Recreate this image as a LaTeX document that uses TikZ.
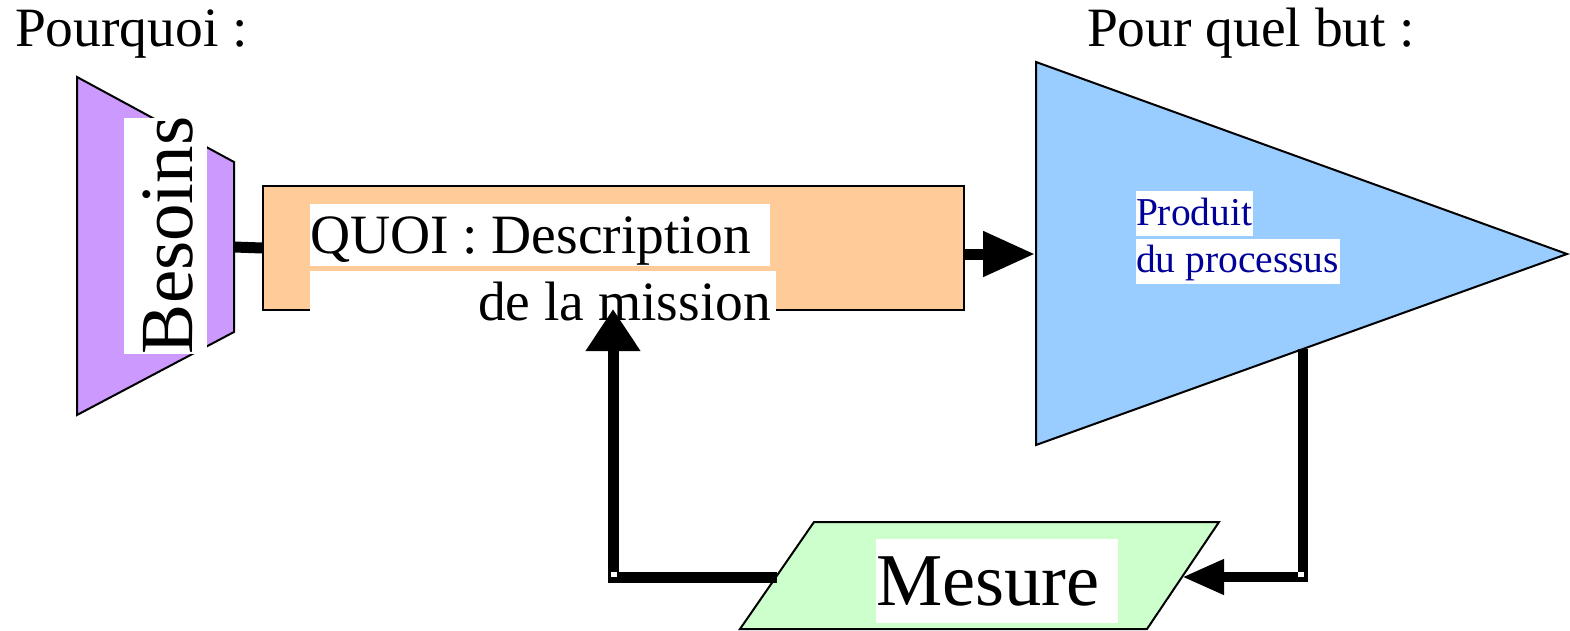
\documentclass[tikz,border=0pt]{standalone}
\usepackage{fontspec}
\setmainfont{Liberation Serif}
\usetikzlibrary{arrows.meta}
\definecolor{besoinfill}{HTML}{CC99FF}
\definecolor{quoifill}{HTML}{FFCC99}
\definecolor{prodfill}{HTML}{99CCFF}
\definecolor{mesfill}{HTML}{CCFFCC}
\definecolor{prodtext}{HTML}{000099}
\begin{document}
\begin{tikzpicture}[x=1pt,y=-1pt,
  shapeline/.style={draw=black,line width=2pt,line join=miter},
  link/.style={draw=black,line width=11pt,line join=miter},
  lbl/.style={inner sep=0pt,outer sep=0pt,anchor=base west},
  bigtxt/.style={font=\fontsize{55.5}{60}\selectfont},
  bg/.style={fill=white}]
\useasboundingbox (0,0) rectangle (1570,631);
% titles
\node[lbl,bigtxt] (pourquoi) at (15,47) {Pourquoi :};
\node[lbl,bigtxt] (pourbut) at (1087,47) {Pour quel but :};
% shapes
\draw[shapeline,fill=besoinfill] (77,77) -- (234,162) -- (234,332) -- (77,415) -- cycle;
\coordinate (besE) at (234,247);
\node[shapeline,fill=quoifill,minimum width=701pt,minimum height=124pt,inner sep=0pt,anchor=north west] (quoi) at (262,185) {};
\draw[shapeline,fill=prodfill] (1036,62) -- (1567,254) -- (1036,445) -- cycle;
\coordinate (triW) at (1035,254);
\coordinate (triS) at (1303,349);
\draw[shapeline,fill=mesfill] (814,522) -- (1219,522) -- (1147,629) -- (740,629) -- cycle;
\coordinate (mesW) at (777,577);
\coordinate (mesE) at (1182,577);
\coordinate (quoiS) at (613,309);
% white label backgrounds
\fill[bg] (124,118) rectangle (207,354);
\fill[bg] (310,204) rectangle (770,266);
\fill[bg] (310,271) rectangle (776,312);
\fill[bg] (1136,191) rectangle (1253,236);
\fill[bg] (1136,239) rectangle (1340,284);
\fill[bg] (876,539) rectangle (1118,623);
% labels
\node[lbl,rotate=90,font=\fontsize{75}{80}\selectfont] (besoins) at (192,354) {Besoins};
\node[lbl,bigtxt] (quoi1) at (310,253) {QUOI : Description};
\node[lbl,bigtxt] (quoi2) at (478,320) {de la mission};
\node[lbl,text=prodtext,font=\fontsize{39.5}{44}\selectfont] (prod1) at (1136,225) {Produit};
\node[lbl,text=prodtext,font=\fontsize{39.5}{44}\selectfont] (prod2) at (1136,272) {du processus};
\node[lbl,font=\fontsize{74.5}{80}\selectfont] (mesure) at (876,605) {Mesure};
% connectors
\draw[link] (besE) -- (quoi.west);
\draw[link,-{Triangle[length=52pt,width=43pt]}] (quoi.east |- triW) -- (triW);
\draw[link,-{Triangle[length=42pt,width=52pt]}] (mesW) -| (quoiS);
\draw[link,line width=10pt,-{Triangle[length=42pt,width=33pt]}] (triS) |- (mesE);
\fill[white] (611,572) rectangle (617,577);
\fill[white] (1298,572) rectangle (1304,577);
\end{tikzpicture}
\end{document}
